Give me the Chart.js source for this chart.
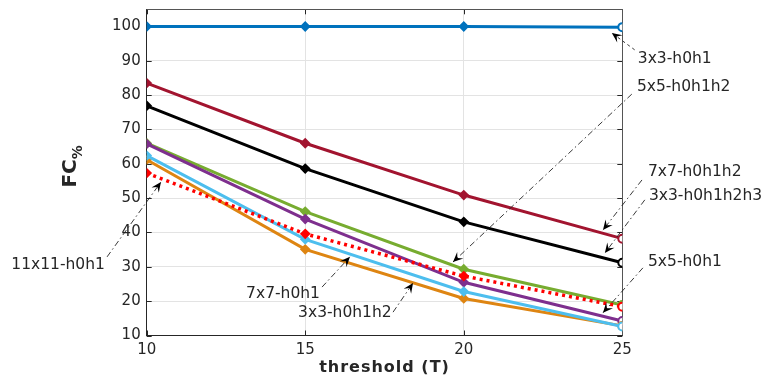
<!DOCTYPE html>
<html>
<head>
<meta charset="utf-8">
<script src="https://cdn.jsdelivr.net/npm/chart.js@4/dist/chart.umd.min.js"></script>
<style>
    html, body { margin: 0; padding: 0; background: #fff; }
    #wrap { width: 767px; height: 380px; }
</style>
</head>
<body>
<div id="wrap"><canvas id="chart" width="767" height="380"></canvas></div>
<script>
// thresholds on the x axis
const thresholds = [10, 15, 20, 25];
const yTicks = [10, 20, 30, 40, 50, 60, 70, 80, 90, 100];

// FC% per filter / basis combination
const fc3x3_h0h1 = [100, 100, 100, 99.8];
const fc7x7_h0h1h2 = [83.5, 66.0, 50.9, 38.2];
const fc3x3_h0h1h2h3 = [76.9, 58.6, 43.1, 31.2];
const fc5x5_h0h1h2 = [66.0, 46.1, 29.3, 18.9];
const fc5x5_h0h1 = [65.8, 43.9, 25.5, 14.2];
const fc7x7_h0h1 = [62.4, 38.0, 22.8, 12.6];
const fc3x3_h0h1h2 = [61.2, 35.1, 20.8, 12.8];
const fc11x11_h0h1 = [57.3, 39.6, 27.3, 18.4];

// callouts: label, arrow head, arrow tail, text anchor (all in data units)
const callouts = [
    { label: "3x3-h0h1", head: [24.67, 98.1], tail: [25.39, 93.2], at: [25.49, 90.6], align: "left", dash: [3, 3] },
    { label: "5x5-h0h1h2", head: [19.66, 31.4], tail: [25.30, 80.3], at: [25.46, 82.4], align: "left" },
    { label: "7x7-h0h1h2", head: [24.39, 40.7], tail: [25.62, 55.3], at: [25.81, 57.6], align: "left" },
    { label: "3x3-h0h1h2h3", head: [24.45, 34.0], tail: [25.71, 49.5], at: [25.84, 50.7], align: "left" },
    { label: "5x5-h0h1", head: [24.39, 16.6], tail: [25.65, 29.7], at: [25.81, 31.4], align: "left" },
    { label: "11x11-h0h1", head: [10.45, 54.7], tail: [8.75, 32.9], at: [8.68, 30.5], align: "right" },
    { label: "7x7-h0h1", head: [16.41, 32.9], tail: [15.53, 24.1], at: [14.30, 22.1], align: "center" },
    { label: "3x3-h0h1h2", head: [18.40, 25.3], tail: [17.77, 16.8], at: [16.25, 16.55], align: "center" }
];

const font = "'DejaVu Sans', sans-serif";
const textColor = "#262626";

function series(label, data, color, dash) {
    const last = data.length - 1;
    return {
        label: label,
        data: data.map((v, i) => ({ x: thresholds[i], y: v })),
        borderColor: color,
        borderWidth: dash ? 3.5 : 3,
        borderDash: dash || [],
        fill: false,
        tension: 0,
        pointStyle: ctx => ctx.dataIndex === last ? "circle" : "rectRot",
        pointRadius: 4,
        pointBorderWidth: 2,
        pointBorderColor: color,
        pointBackgroundColor: ctx => ctx.dataIndex === last ? "#fff" : color
    };
}

const datasets = [
    series("11x11-h0h1", fc11x11_h0h1, "#FF0000", [3, 4]),
    series("7x7-h0h1", fc7x7_h0h1, "#4DBEEE"),
    series("3x3-h0h1h2", fc3x3_h0h1h2, "#DE8512"),
    series("5x5-h0h1", fc5x5_h0h1, "#7E2F8E"),
    series("5x5-h0h1h2", fc5x5_h0h1h2, "#77AC30"),
    series("3x3-h0h1h2h3", fc3x3_h0h1h2h3, "#000000"),
    series("7x7-h0h1h2", fc7x7_h0h1h2, "#A2142F"),
    series("3x3-h0h1", fc3x3_h0h1, "#0072BD")
];

function arrowHead(ctx, x1, y1, x2, y2) {
    const a = Math.atan2(y2 - y1, x2 - x1);
    const len = 10, half = 4.5, back = 6;
    ctx.save();
    ctx.translate(x2, y2);
    ctx.rotate(a);
    ctx.beginPath();
    ctx.moveTo(0, 0);
    ctx.lineTo(-len, -half);
    ctx.lineTo(-back, 0);
    ctx.lineTo(-len, half);
    ctx.closePath();
    ctx.fillStyle = "#000";
    ctx.fill();
    ctx.restore();
}

const decorations = {
    id: "decorations",
    beforeDatasetsDraw(chart) {
        const { ctx, chartArea: a } = chart;
        const xs = chart.scales.x, ys = chart.scales.y;
        ctx.save();
        ctx.strokeStyle = "#262626";
        ctx.lineWidth = 1;
        // inward tick marks
        yTicks.forEach(v => {
            const py = Math.round(ys.getPixelForValue(v)) + 0.5;
            ctx.beginPath();
            ctx.moveTo(a.left, py); ctx.lineTo(a.left + 5, py);
            ctx.moveTo(a.right, py); ctx.lineTo(a.right - 5, py);
            ctx.stroke();
        });
        thresholds.forEach(v => {
            const px = Math.round(xs.getPixelForValue(v)) + 0.5;
            ctx.beginPath();
            ctx.moveTo(px, a.bottom); ctx.lineTo(px, a.bottom - 5);
            ctx.moveTo(px, a.top); ctx.lineTo(px, a.top + 5);
            ctx.stroke();
        });
        // box
        ctx.strokeStyle = "#555";
        ctx.beginPath();
        ctx.moveTo(a.left, Math.round(a.top) + 0.5);
        ctx.lineTo(Math.round(a.right) + 0.5, Math.round(a.top) + 0.5);
        ctx.lineTo(Math.round(a.right) + 0.5, a.bottom);
        ctx.stroke();
        ctx.restore();
    },
    afterDraw(chart) {
        const { ctx, chartArea: a } = chart;
        const xs = chart.scales.x, ys = chart.scales.y;
        ctx.save();
        // callouts
        callouts.forEach(c => {
            const hx = xs.getPixelForValue(c.head[0]), hy = ys.getPixelForValue(c.head[1]);
            const tx = xs.getPixelForValue(c.tail[0]), ty = ys.getPixelForValue(c.tail[1]);
            ctx.strokeStyle = "#222";
            ctx.lineWidth = 0.9;
            ctx.setLineDash(c.dash || [6, 3, 1.5, 3]);
            ctx.beginPath();
            ctx.moveTo(tx, ty);
            ctx.lineTo(hx, hy);
            ctx.stroke();
            ctx.setLineDash([]);
            arrowHead(ctx, tx, ty, hx, hy);
            ctx.fillStyle = textColor;
            ctx.font = "15.5px " + font;
            ctx.textAlign = c.align;
            ctx.textBaseline = "middle";
            ctx.fillText(c.label, xs.getPixelForValue(c.at[0]), ys.getPixelForValue(c.at[1]));
        });
        // x title
        ctx.fillStyle = textColor;
        ctx.font = "bold 16px " + font;
        ctx.letterSpacing = "1px";
        ctx.textAlign = "center";
        ctx.textBaseline = "middle";
        ctx.fillText("threshold (T)", (a.left + a.right) / 2, 368);
        ctx.letterSpacing = "0px";
        // y title with subscript
        ctx.translate(68, (a.top + a.bottom) / 2 - 6);
        ctx.rotate(-Math.PI / 2);
        ctx.textAlign = "left";
        ctx.textBaseline = "alphabetic";
        ctx.font = "bold 20px " + font;
        const w1 = ctx.measureText("FC").width;
        ctx.font = "bold 14px " + font;
        const w2 = ctx.measureText("%").width;
        ctx.font = "bold 20px " + font;
        ctx.fillText("FC", -(w1 + w2) / 2, 8);
        ctx.font = "bold 14px " + font;
        ctx.fillText("%", -(w1 + w2) / 2 + w1, 14);
        ctx.restore();
    }
};

new Chart(document.getElementById("chart"), {
    type: "line",
    data: { datasets: datasets },
    options: {
        responsive: false,
        animation: false,
        layout: { padding: { left: 0, right: 144.7, top: 9.3, bottom: 0 } },
        plugins: { legend: { display: false }, tooltip: { enabled: false } },
        scales: {
            x: {
                type: "linear",
                min: 10,
                max: 25,
                afterBuildTicks: scale => { scale.ticks = thresholds.map(v => ({ value: v })); },
                afterFit: scale => { scale.height = 44.5; scale.paddingLeft = 0; scale.paddingRight = 0; },
                grid: { color: "#e3e3e3", drawTicks: false },
                border: { color: "#262626", width: 1 },
                ticks: { padding: 6, color: textColor, font: { family: font, size: 15 } }
            },
            y: {
                min: 10,
                max: 105,
                afterBuildTicks: scale => { scale.ticks = yTicks.map(v => ({ value: v })); },
                afterFit: scale => { scale.width = 146.7; scale.paddingTop = 0; scale.paddingBottom = 0; },
                grid: { color: "#e3e3e3", drawTicks: false },
                border: { color: "#262626", width: 1 },
                ticks: { padding: 6, color: textColor, font: { family: font, size: 15 } }
            }
        }
    },
    plugins: [decorations]
});
</script>
</body>
</html>
